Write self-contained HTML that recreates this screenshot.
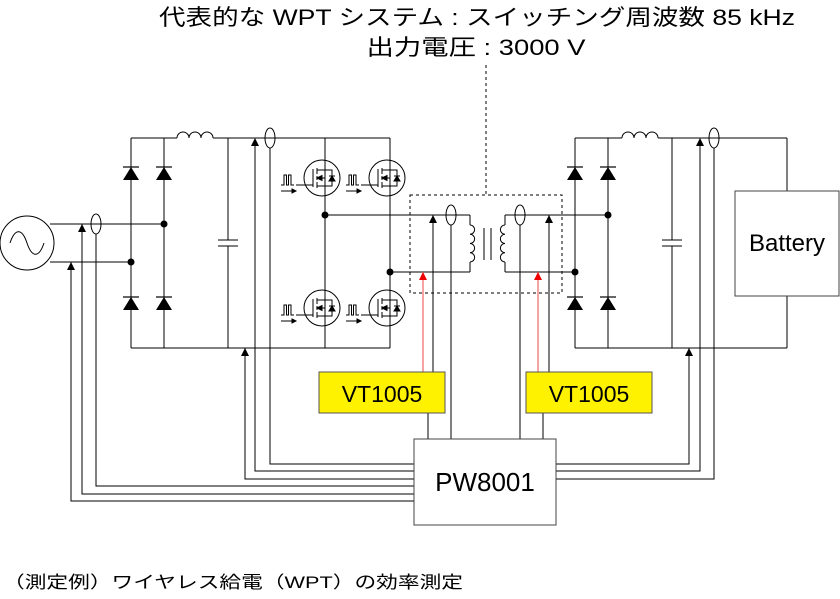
<!DOCTYPE html>
<html><head><meta charset="utf-8"><style>
html,body{margin:0;padding:0;background:#fff;}
svg{display:block;}
text{font-family:"Liberation Sans","Noto Sans CJK JP",sans-serif;}
</style></head><body>
<svg width="840" height="599" viewBox="0 0 840 599" xmlns="http://www.w3.org/2000/svg">
<defs>
<g id="dio"><polygon points="-8,13 8,13 0,0" fill="#000"/><line x1="-8" y1="0" x2="8" y2="0" stroke="#000" stroke-width="1.2"/></g>
<g id="arr"><polygon points="-4,8 4,8 0,0" fill="#000"/></g>
<g id="rarr"><polygon points="-4,8 4,8 0,0" fill="#e00"/></g>
<g id="fet" fill="none" stroke="#000" stroke-width="1">
<circle cx="0" cy="0" r="18"/>
<line x1="-26" y1="7" x2="-9" y2="7"/>
<line x1="-9" y1="-9" x2="-9" y2="9"/>
<line x1="-5" y1="-10" x2="-5" y2="-4"/><line x1="-5" y1="-2" x2="-5" y2="2"/><line x1="-5" y1="4" x2="-5" y2="10"/>
<polyline points="-5,-8 3,-8 3,-18"/>
<polyline points="-5,8 3,8 3,18"/>
<line x1="-5" y1="0" x2="3" y2="0"/>
<polyline points="3,-8 10,-8 10,8 3,8"/>
<polygon points="7,3 13,3 10,-2" fill="#000"/>
<line x1="7" y1="-2" x2="13" y2="-2"/>
<polygon points="-5,0 0,-2.5 0,2.5" fill="#000"/>
<polyline points="-41,7 -38,7 -38,-3 -35.5,-3 -35.5,7 -33.5,7 -33.5,-3 -31,-3 -31,7 -28,7"/>
<line x1="-41" y1="13" x2="-30" y2="13"/>
<polygon points="-30,11 -26,13 -30,15" fill="#000"/>
</g>
</defs>

<text x="477" y="25" font-size="22" text-anchor="middle" textLength="636" lengthAdjust="spacingAndGlyphs">代表的な WPT システム : スイッチング周波数 85 kHz</text>
<text x="476" y="55" font-size="22" text-anchor="middle" textLength="219" lengthAdjust="spacingAndGlyphs">出力電圧 : 3000 V</text>
<text x="3" y="588" font-size="17" textLength="460" lengthAdjust="spacingAndGlyphs">（測定例）ワイヤレス給電（WPT）の効率測定</text>

<g fill="none" stroke="#000" stroke-width="1">
<circle cx="27" cy="243" r="27"/>
<path d="M10,243 C15,228 22,228 27,243 C32,258 39,258 44,243"/>
<line x1="50" y1="224" x2="164" y2="224"/>
<line x1="50" y1="262" x2="131" y2="262"/>
<ellipse cx="96" cy="224" rx="5" ry="10"/>
<line x1="131" y1="138" x2="131" y2="348"/>
<line x1="164" y1="138" x2="164" y2="348"/>
<line x1="131" y1="138" x2="177" y2="138"/>
<path d="M177,138 a6,6 0 0 1 12,0 a6,6 0 0 1 12,0 a6,6 0 0 1 12,0"/>
<line x1="213" y1="138" x2="390" y2="138"/>
<line x1="228" y1="138" x2="228" y2="240"/>
<line x1="228" y1="246" x2="228" y2="348"/>
<line x1="218" y1="240" x2="238" y2="240"/>
<line x1="218" y1="246" x2="238" y2="246"/>
<ellipse cx="270" cy="138" rx="5" ry="10"/>
<line x1="131" y1="348" x2="390" y2="348"/>
<line x1="325" y1="138" x2="325" y2="348"/>
<line x1="390" y1="138" x2="390" y2="348"/>
<line x1="325" y1="215" x2="470" y2="215"/>
<line x1="390" y1="272" x2="470" y2="272"/>
<line x1="470" y1="215" x2="470" y2="225"/>
<line x1="470" y1="262" x2="470" y2="272"/>
<path d="M470,225 a4.6,4.6 0 0 1 0,9.25 a4.6,4.6 0 0 1 0,9.25 a4.6,4.6 0 0 1 0,9.25 a4.6,4.6 0 0 1 0,9.25"/>
<line x1="484" y1="228" x2="484" y2="260"/>
<line x1="491" y1="228" x2="491" y2="260"/>
<path d="M505,225 a4.6,4.6 0 0 0 0,9.25 a4.6,4.6 0 0 0 0,9.25 a4.6,4.6 0 0 0 0,9.25 a4.6,4.6 0 0 0 0,9.25"/>
<line x1="505" y1="215" x2="505" y2="225"/>
<line x1="505" y1="262" x2="505" y2="272"/>
<line x1="505" y1="215" x2="608" y2="215"/>
<line x1="505" y1="272" x2="575" y2="272"/>
<ellipse cx="451" cy="215" rx="5" ry="10"/>
<ellipse cx="520" cy="215" rx="5" ry="10"/>
<rect x="410" y="195" width="152" height="98" stroke-dasharray="3,3"/>
<line x1="486" y1="65" x2="486" y2="195" stroke-dasharray="3,3"/>
<line x1="575" y1="138" x2="575" y2="348"/>
<line x1="608" y1="138" x2="608" y2="348"/>
<line x1="575" y1="138" x2="622" y2="138"/>
<path d="M622,138 a6,6 0 0 1 12,0 a6,6 0 0 1 12,0 a6,6 0 0 1 12,0"/>
<line x1="658" y1="138" x2="787" y2="138"/>
<line x1="672" y1="138" x2="672" y2="240"/>
<line x1="672" y1="246" x2="672" y2="348"/>
<line x1="662" y1="240" x2="682" y2="240"/>
<line x1="662" y1="246" x2="682" y2="246"/>
<ellipse cx="714" cy="138" rx="5" ry="10"/>
<line x1="575" y1="348" x2="787" y2="348"/>
<line x1="787" y1="138" x2="787" y2="191"/>
<line x1="787" y1="296" x2="787" y2="348"/>
<rect x="735" y="191" width="104" height="105" stroke="#444"/>
<polyline points="270,148 270,464 414,464"/>
<polyline points="255,140 255,471 414,471"/>
<polyline points="245,348 245,479 414,479"/>
<polyline points="96,234 96,486 414,486"/>
<polyline points="82,224 82,494 414,494"/>
<polyline points="71,262 71,501 414,501"/>
<polyline points="689,348 689,464 556,464"/>
<polyline points="700,140 700,471 556,471"/>
<polyline points="714,148 714,479 556,479"/>
<line x1="433" y1="215" x2="433" y2="372"/>
<line x1="451" y1="225" x2="451" y2="439"/>
<line x1="428" y1="413" x2="428" y2="439"/>
<line x1="549" y1="215" x2="549" y2="372"/>
<line x1="520" y1="225" x2="520" y2="439"/>
<line x1="543" y1="413" x2="543" y2="439"/>
<rect x="414" y="439" width="142" height="86" stroke="#444"/>
</g>
<line x1="423" y1="272" x2="423" y2="372" stroke="#e66" stroke-width="1.2"/>
<line x1="538" y1="272" x2="538" y2="372" stroke="#e66" stroke-width="1.2"/>
<use href="#rarr" x="423" y="272"/><use href="#rarr" x="538" y="272"/>
<use href="#arr" x="82" y="224"/><use href="#arr" x="71" y="262"/>
<use href="#arr" x="255" y="138"/><use href="#arr" x="245" y="348"/>
<use href="#arr" x="433" y="215"/><use href="#arr" x="549" y="215"/>
<use href="#arr" x="700" y="138"/><use href="#arr" x="689" y="348"/>
<use href="#dio" x="131" y="167"/><use href="#dio" x="164" y="167"/>
<use href="#dio" x="131" y="297"/><use href="#dio" x="164" y="297"/>
<use href="#dio" x="575" y="167"/><use href="#dio" x="608" y="167"/>
<use href="#dio" x="575" y="297"/><use href="#dio" x="608" y="297"/>
<g fill="#000"><circle cx="164" cy="224" r="3.5"/><circle cx="131" cy="262" r="3.5"/>
<circle cx="325" cy="215" r="3.5"/><circle cx="390" cy="272" r="3.5"/>
<circle cx="608" cy="215" r="3.5"/><circle cx="575" cy="272" r="3.5"/></g>
<use href="#fet" x="322" y="178"/><use href="#fet" x="387" y="178"/>
<use href="#fet" x="322" y="308"/><use href="#fet" x="387" y="308"/>
<rect x="319" y="372" width="126" height="41" fill="#fff200" stroke="#555"/>
<rect x="526" y="372" width="126" height="41" fill="#fff200" stroke="#555"/>
<text x="382" y="402" font-size="23" text-anchor="middle">VT1005</text>
<text x="589" y="402" font-size="23" text-anchor="middle">VT1005</text>
<text x="485" y="491" font-size="26" text-anchor="middle">PW8001</text>
<text x="787" y="251" font-size="24" text-anchor="middle">Battery</text>
</svg>
</body></html>
